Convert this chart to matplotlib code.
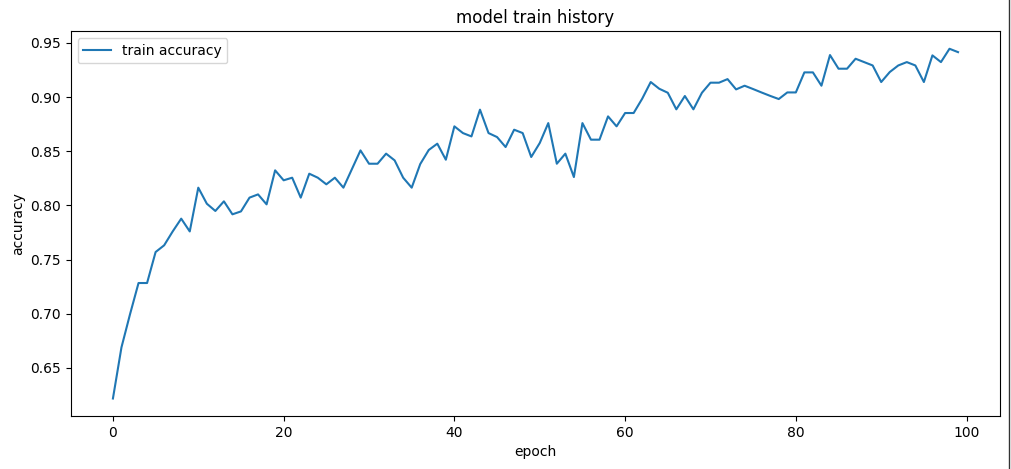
import matplotlib
matplotlib.use("Agg")
import matplotlib.pyplot as plt
from matplotlib.lines import Line2D

epochs = list(range(100))
train_accuracy = [
    0.6218, 0.669, 0.6995, 0.7284, 0.7284, 0.757, 0.7632, 0.776, 0.7878, 0.776,
    0.8164, 0.8016, 0.7949, 0.8038, 0.7918, 0.7945, 0.8072, 0.8102, 0.801, 0.8324,
    0.8232, 0.8256, 0.8072, 0.8293, 0.8256, 0.8195, 0.8256, 0.8164, 0.8336, 0.8508,
    0.8385, 0.8385, 0.8478, 0.8416, 0.8256, 0.8164, 0.8382, 0.8512, 0.857, 0.8422,
    0.873, 0.8668, 0.8637, 0.8884, 0.8668, 0.8631, 0.8539, 0.8699, 0.8668, 0.8447,
    0.8576, 0.876, 0.8385, 0.8478, 0.8262, 0.876, 0.8607, 0.8607, 0.8822, 0.873,
    0.8853, 0.8853, 0.8985, 0.9139, 0.9077, 0.904, 0.8887, 0.901, 0.8887, 0.904,
    0.9133, 0.9133, 0.9166, 0.9071, 0.9105, 0.9074, 0.9042, 0.9011, 0.8982, 0.9043,
    0.9043, 0.9228, 0.9228, 0.9105, 0.9388, 0.9262, 0.9262, 0.9354, 0.9323, 0.9292,
    0.9139, 0.9231, 0.9292, 0.9323, 0.9292, 0.9139, 0.9385, 0.9323, 0.9446, 0.9415,
]

fig = plt.figure(figsize=(10.11, 4.69), dpi=100)
ax = fig.add_axes([0.0699, 0.113, 0.9195, 0.8203])
ax.plot(epochs, train_accuracy, color="#1f77b4", linewidth=1.5, label="train accuracy")
ax.set_title("model train history")
ax.set_xlabel("epoch")
ax.set_ylabel("accuracy")
ax.legend(loc="upper left")

fig.add_artist(Line2D([0.9985, 0.9985], [0.0, 1.0], color="#333333", linewidth=1.0,
                      transform=fig.transFigure))

fig.savefig("out.png", dpi=100)
